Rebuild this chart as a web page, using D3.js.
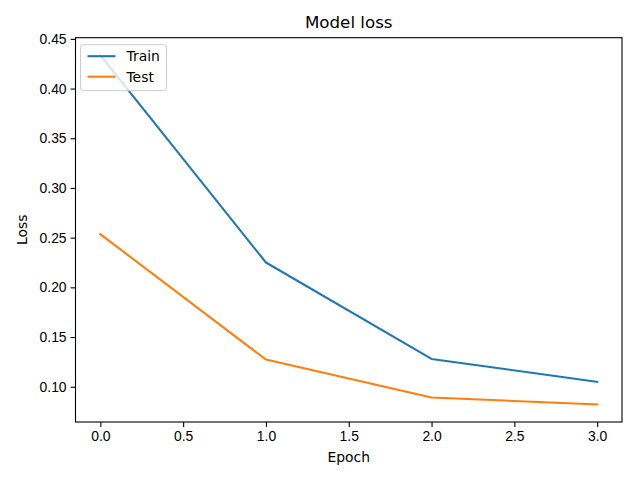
<!DOCTYPE html>
<html>
<head>
<meta charset="utf-8">
<script src="https://cdn.jsdelivr.net/npm/d3@7"></script>
<style>
  body { margin: 0; background: #fff; }
  svg { font-family: "DejaVu Sans", sans-serif; }
  .tick text { font-size: 13.9px; fill: #000; }
  .tick line { stroke: #000; stroke-width: 1.1; }
  .domain { display: none; }
</style>
</head>
<body>
<svg></svg>
<script>
let width = 640;
let height = 480;
let margin = {left: 75.5, right: 18, top: 37.7, bottom: 58};

let epochs = [0, 1, 2, 3];
let trainLoss = [0.4336, 0.2250, 0.1280, 0.1050];
let testLoss = [0.2535, 0.1273, 0.0892, 0.0821];
let xTicks = [0, 0.5, 1, 1.5, 2, 2.5, 3];
let yTicks = [0.10, 0.15, 0.20, 0.25, 0.30, 0.35, 0.40, 0.45];

let series = [
    {name: "Train", values: trainLoss, color: "#1f77b4"},
    {name: "Test", values: testLoss, color: "#ff7f0e"}
];

// matplotlib style 5% margins around the data
let allY = trainLoss.concat(testLoss);
let yMin = d3.min(allY), yMax = d3.max(allY);
let yPad = (yMax - yMin) * 0.05;
let xPad = (d3.max(epochs) - d3.min(epochs)) * 0.05;

let xScale = d3.scaleLinear()
    .domain([d3.min(epochs) - xPad, d3.max(epochs) + xPad])
    .range([margin.left, width - margin.right]);

let yScale = d3.scaleLinear()
    .domain([yMin - yPad, yMax + yPad])
    .range([height - margin.bottom, margin.top]);

let svg = d3.select("svg")
    .attr("width", width)
    .attr("height", height);

let xAxis = d3.axisBottom(xScale)
    .tickValues(xTicks)
    .tickFormat(d3.format(".1f"))
    .tickSize(4.9)
    .tickPadding(4);

let yAxis = d3.axisLeft(yScale)
    .tickValues(yTicks)
    .tickFormat(d3.format(".2f"))
    .tickSize(4.9)
    .tickPadding(4);

svg.append("g")
    .attr("transform", "translate(0," + (height - margin.bottom) + ")")
    .call(xAxis);

svg.append("g")
    .attr("transform", "translate(" + margin.left + ",0)")
    .call(yAxis);

let line = d3.line()
    .x((d, i) => xScale(epochs[i]))
    .y(d => yScale(d));

svg.selectAll("path.series")
    .data(series)
    .enter()
    .append("path")
    .attr("class", "series")
    .attr("d", d => line(d.values))
    .attr("fill", "none")
    .attr("stroke", d => d.color)
    .attr("stroke-width", 2.08)
    .attr("stroke-linecap", "square")
    .attr("stroke-linejoin", "round");

// frame
svg.append("rect")
    .attr("x", margin.left)
    .attr("y", margin.top)
    .attr("width", width - margin.left - margin.right)
    .attr("height", height - margin.top - margin.bottom)
    .attr("fill", "none")
    .attr("stroke", "#000")
    .attr("stroke-width", 1.1);

// legend
let legend = svg.append("g")
    .attr("transform", "translate(" + (margin.left + 5) + "," + (margin.top + 7) + ")");

legend.append("rect")
    .attr("width", 86)
    .attr("height", 46)
    .attr("rx", 3)
    .attr("fill", "#fff")
    .attr("fill-opacity", 0.8)
    .attr("stroke", "#ccc")
    .attr("stroke-width", 1);

series.forEach((s, i) => {
    let y = 11.5 + i * 20.5;
    legend.append("line")
        .attr("x1", 7).attr("x2", 35)
        .attr("y1", y).attr("y2", y)
        .attr("stroke", s.color)
        .attr("stroke-width", 2.08);
    legend.append("text")
        .attr("x", 46)
        .attr("y", y)
        .attr("dy", "0.35em")
        .style("font-size", "13.9px")
        .text(s.name);
});

svg.append("text")
    .attr("x", (margin.left + width - margin.right) / 2)
    .attr("y", 28)
    .style("text-anchor", "middle")
    .style("font-size", "16.7px")
    .text("Model loss");

svg.append("text")
    .attr("x", (margin.left + width - margin.right) / 2)
    .attr("y", 462)
    .style("text-anchor", "middle")
    .style("font-size", "13.9px")
    .text("Epoch");

svg.append("text")
    .attr("transform", "rotate(-90)")
    .attr("x", -(margin.top + height - margin.bottom) / 2)
    .attr("y", 27)
    .style("text-anchor", "middle")
    .style("font-size", "13.9px")
    .text("Loss");
</script>
</body>
</html>
